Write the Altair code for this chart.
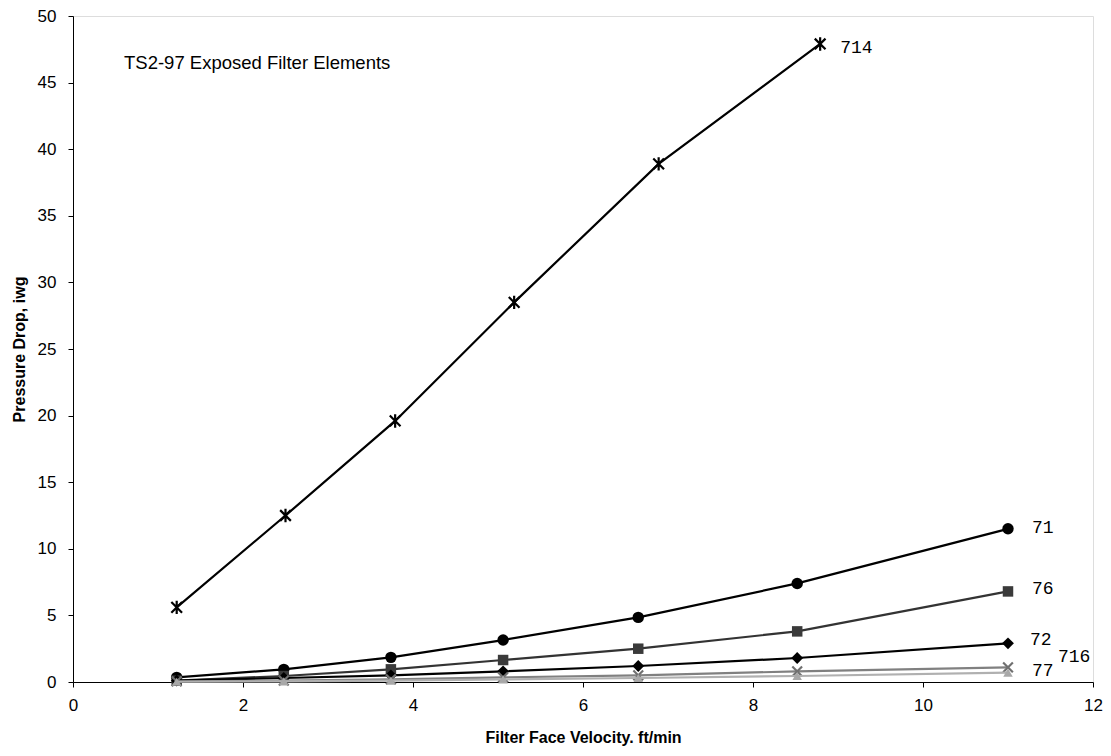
import altair as alt
import pandas as pd

# ---- data ----
velocity = [1.22, 2.48, 3.74, 5.06, 6.65, 8.52, 11.0]
velocity_714 = [1.22, 2.50, 3.79, 5.19, 6.89, 8.79]

p71 = [0.35, 0.95, 1.85, 3.15, 4.85, 7.4, 11.5]
p76 = [0.1, 0.45, 0.95, 1.65, 2.5, 3.8, 6.8]
p72 = [0.1, 0.3, 0.5, 0.8, 1.2, 1.8, 2.9]
p716 = [0.05, 0.1, 0.2, 0.35, 0.5, 0.8, 1.1]
p77 = [0.02, 0.05, 0.1, 0.2, 0.3, 0.45, 0.7]
p714 = [5.6, 12.5, 19.6, 28.5, 38.9, 47.9]

x_ticks = [0, 2, 4, 6, 8, 10, 12]
y_ticks = [0, 5, 10, 15, 20, 25, 30, 35, 40, 45, 50]

annotation = "TS2-97 Exposed Filter Elements"
x_title = "Filter Face Velocity. ft/min"
y_title = "Pressure Drop, iwg"

ASTERISK = "M-1,-1L1,1M-1,1L1,-1M0,-1.25L0,1.25"
XMARK = "M-1,-1L1,1M-1,1L1,-1"

# name, x, y, line colour, marker shape, marker filled, marker colour, size, label dx, label dy
series = [
    ("714", velocity_714, p714, "#000000", ASTERISK, False, "#000000", 115, 20, 4),
    ("71", velocity, p71, "#000000", "circle", True, "#000000", 130, 24, -1),
    ("76", velocity, p76, "#333333", "square", True, "#3a3a3a", 110, 24, -2),
    ("72", velocity, p72, "#000000", "diamond", True, "#000000", 140, 22, -3),
    ("716", velocity, p716, "#808080", XMARK, False, "#707070", 95, 50, -10),
    ("77", velocity, p77, "#b0b0b0", "triangle-up", True, "#a8a8a8", 90, 24, -2),
]

xs = alt.Scale(domain=[0, 12], nice=False, zero=True)
ys = alt.Scale(domain=[0, 50], nice=False, zero=True)

x_axis = alt.Axis(values=x_ticks, title=x_title, grid=False, labelFontSize=17,
                  labelPadding=10, titleFontSize=16, titleFontWeight="bold",
                  titlePadding=16, tickSize=5, tickColor="#000", domainColor="#000",
                  labelColor="#000", titleColor="#000", labelFlush=False)
y_axis = alt.Axis(values=y_ticks, title=y_title, grid=False, labelFontSize=17,
                  labelPadding=12, titleFontSize=16, titleFontWeight="bold",
                  titlePadding=10, tickSize=5, tickColor="#000", domainColor="#000",
                  labelColor="#000", titleColor="#000", labelFlush=False)

layers = []
for name, xv, yv, lc, shape, filled, mc, size, dx, dy in series:
    df = pd.DataFrame({"v": xv, "p": yv})
    base = alt.Chart(df).encode(
        x=alt.X("v:Q", scale=xs, axis=x_axis),
        y=alt.Y("p:Q", scale=ys, axis=y_axis),
    )
    layers.append(base.mark_line(color=lc, strokeWidth=2.2))
    if filled:
        layers.append(base.mark_point(shape=shape, filled=True, fill=mc,
                                      color=mc, size=size, opacity=1))
    else:
        layers.append(base.mark_point(shape=shape, filled=False, stroke=mc,
                                      strokeWidth=2.2, size=size, opacity=1))
    last = pd.DataFrame({"v": [xv[-1]], "p": [yv[-1]], "t": [name]})
    layers.append(
        alt.Chart(last).mark_text(align="left", baseline="middle", dx=dx, dy=dy,
                                  font="Liberation Mono", fontSize=18, color="#000")
        .encode(x=alt.X("v:Q", scale=xs, axis=x_axis),
                y=alt.Y("p:Q", scale=ys, axis=y_axis), text="t:N")
    )

ann = alt.Chart(pd.DataFrame({"v": [0.6], "p": [46.5], "t": [annotation]})).mark_text(
    align="left", baseline="middle", fontSize=18.5, font="Liberation Sans", color="#000"
).encode(x=alt.X("v:Q", scale=xs, axis=x_axis), y=alt.Y("p:Q", scale=ys, axis=y_axis),
         text="t:N")
layers.append(ann)

chart = alt.layer(*layers).properties(
    width=1020, height=666,
    autosize=alt.AutoSizeParams(type="none"),
    padding={"left": 65, "top": 8, "right": 10, "bottom": 72},
).configure_view(stroke="#000", strokeWidth=1.5).configure(
    font="Liberation Sans", background="white"
)

chart.save("out.html", embed_options={"renderer": "svg", "actions": False})
